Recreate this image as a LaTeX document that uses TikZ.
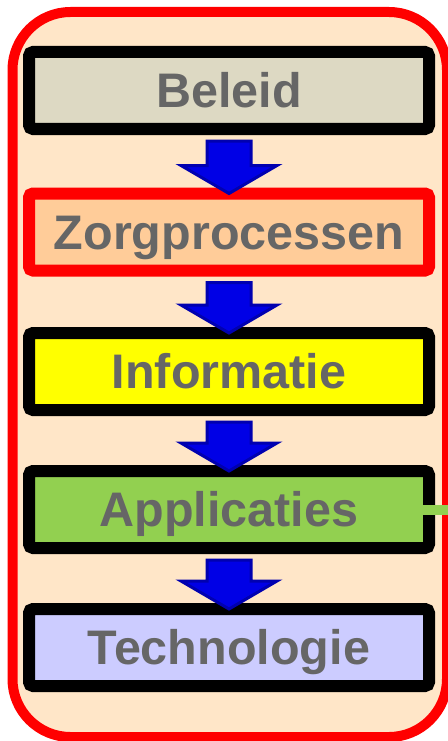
\documentclass[tikz,border=0pt]{standalone}
\usepackage{fontspec}
\setmainfont{Liberation Sans}
\usetikzlibrary{calc}

\definecolor{kaderBg}{RGB}{255,230,200}
\definecolor{beleidKleur}{RGB}{221,217,195}
\definecolor{zorgKleur}{RGB}{255,204,153}
\definecolor{infoKleur}{RGB}{255,255,0}
\definecolor{applKleur}{RGB}{146,208,80}
\definecolor{techKleur}{RGB}{204,204,255}
\definecolor{tekstGrijs}{RGB}{102,102,102}
\definecolor{pijlBlauw}{RGB}{0,0,230}
\definecolor{pijlRand}{RGB}{0,0,176}

\tikzset{
	laag/.style={draw=black, line width=12pt, rounded corners=4pt,
		minimum width=400pt, minimum height=77pt, inner sep=0pt, outer sep=0pt,
		text=tekstGrijs, font=\fontsize{48.5}{52}\selectfont\bfseries,
		text height=34.5pt, text depth=0pt},
	pijl/.style={fill=pijlBlauw, draw=pijlRand, line width=3pt, line join=miter},
	koppeling/.style={draw=applKleur, line width=10pt},
}

\begin{document}
\begin{tikzpicture}[x=1pt, y=-1pt]
		\useasboundingbox (0,0) rectangle (447,741);
		\coordinate (B) at (229, 90.5);
		\coordinate (Z) at (229, 232);
		\coordinate (I) at (229, 371.5);
		\coordinate (A) at (229, 509.5);
		\coordinate (T) at (229, 647.5);
		\coordinate (uit) at (470, 509.5);

		% kader
		\draw[line width=10pt, draw=red, fill=kaderBg, rounded corners=58pt] (12.5,12) rectangle (447,737);

		\node[laag, fill=beleidKleur] (beleid) at (B) {Beleid};
		\node[laag, fill=zorgKleur, draw=red] (zorg) at (Z) {Zorgprocessen};
		\node[laag, fill=infoKleur] (info) at (I) {Informatie};
		\node[laag, fill=applKleur] (appl) at (A) {Applicaties};
		\node[laag, fill=techKleur] (tech) at (T) {Technologie};

		\draw[koppeling, shorten <=-6pt] (appl.east) -- (uit);

		\foreach \a/\b in {beleid/zorg, zorg/info, info/appl, appl/tech}
			\draw[pijl] ($(\a.south)+(-22,12)$) -- ($(\a.south)+(22,12)$)
				-- ($(\b.north)+(22,-28)$) -- ($(\b.north)+(48,-28)$) -- (\b.north)
				-- ($(\b.north)+(-48,-28)$) -- ($(\b.north)+(-22,-28)$) -- cycle;
	\end{tikzpicture}
\end{document}
